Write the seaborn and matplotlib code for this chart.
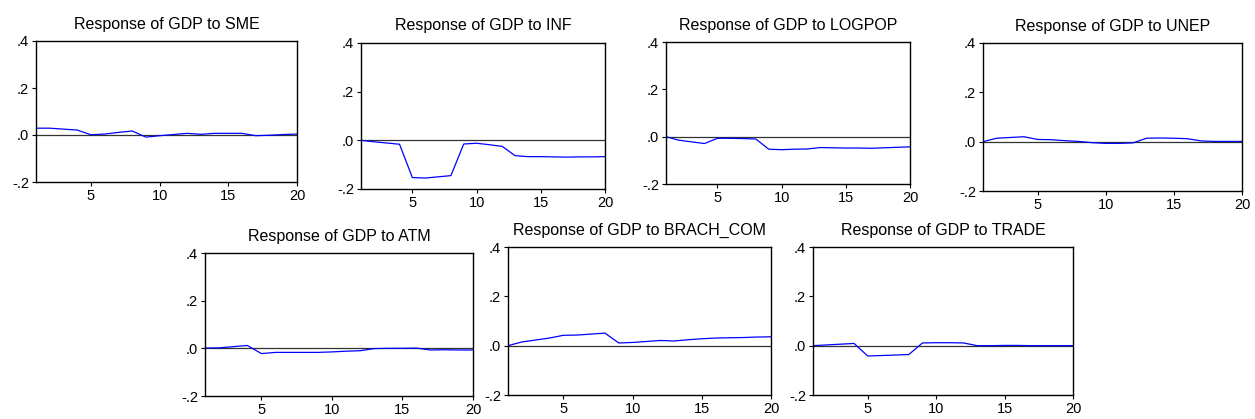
"""
Impulse responses of GDP (EViews-style panel of seven small line charts).
"""

import numpy as np
import pandas as pd
import matplotlib
matplotlib.use("Agg")
import matplotlib.pyplot as plt
from matplotlib.ticker import FuncFormatter
import seaborn as sns

# ---------------------------------------------------------------------------
# Datos
# ---------------------------------------------------------------------------
periods = list(range(1, 21))

sme = [0.029, 0.029, 0.025, 0.021, 0.001, 0.004, 0.011, 0.017, -0.009, -0.003,
       0.002, 0.007, 0.003, 0.007, 0.007, 0.007, -0.003, -0.001, 0.002, 0.004]
inf = [0.000, -0.006, -0.011, -0.016, -0.153, -0.155, -0.150, -0.145, -0.015, -0.012,
       -0.018, -0.025, -0.063, -0.067, -0.067, -0.068, -0.069, -0.068, -0.068, -0.067]
logpop = [0.000, -0.015, -0.022, -0.029, -0.007, -0.007, -0.008, -0.010, -0.053, -0.055,
          -0.053, -0.052, -0.046, -0.047, -0.048, -0.048, -0.049, -0.047, -0.045, -0.043]
unep = [0.000, 0.014, 0.017, 0.020, 0.009, 0.008, 0.004, 0.001, -0.004, -0.007,
        -0.007, -0.005, 0.014, 0.015, 0.014, 0.012, 0.003, 0.001, 0.001, 0.001]
atm = [0.001, 0.002, 0.007, 0.012, -0.022, -0.017, -0.017, -0.017, -0.017, -0.015,
       -0.012, -0.010, -0.001, 0.000, 0.000, 0.001, -0.007, -0.006, -0.007, -0.007]
brach_com = [0.000, 0.015, 0.023, 0.031, 0.042, 0.043, 0.047, 0.051, 0.011, 0.013,
             0.017, 0.021, 0.019, 0.024, 0.028, 0.031, 0.032, 0.033, 0.035, 0.036]
trade = [0.000, 0.003, 0.006, 0.009, -0.042, -0.040, -0.038, -0.036, 0.011, 0.012,
         0.012, 0.011, 0.000, 0.000, 0.001, 0.001, 0.000, 0.000, 0.000, 0.000]

titles = ["Response of GDP to SME", "Response of GDP to INF",
          "Response of GDP to LOGPOP", "Response of GDP to UNEP",
          "Response of GDP to ATM", "Response of GDP to BRACH_COM",
          "Response of GDP to TRADE"]
series = [sme, inf, logpop, unep, atm, brach_com, trade]

y_ticks = [-0.2, 0.0, 0.2, 0.4]
x_ticks = [5, 10, 15, 20]

# posiciones de los ejes en píxeles (izq, der, arriba, abajo)
W, H = 1255, 419
boxes = [(36, 297, 41, 182), (361, 605, 43, 189), (666, 910, 42, 184),
         (983, 1242, 43, 191), (205, 473, 253, 396), (508, 771, 247, 395),
         (813, 1073, 247, 395)]


def _fmt(v, _pos):
    s = f"{v:.1f}"
    return s.replace("0.", ".") if v >= 0 else s.replace("-0.", "-.")


sns.set_style("ticks")
plt.rcParams["font.family"] = ["Liberation Sans", "DejaVu Sans"]

fig = plt.figure(figsize=(W / 100, H / 100), dpi=100)

for title, vals, (l, r, t, b) in zip(titles, series, boxes):
    ax = fig.add_axes([l / W, 1 - b / H, (r - l) / W, (b - t) / H])
    df = pd.DataFrame({"period": periods, "value": vals})
    ax.axhline(0, color="#333333", lw=0.9, zorder=1)
    sns.lineplot(data=df, x="period", y="value", ax=ax, color="#0000ff", lw=0.9)
    ax.set_xlim(1, 20)
    ax.set_ylim(-0.2, 0.4)
    ax.set_xticks(x_ticks)
    ax.set_yticks(y_ticks)
    ax.yaxis.set_major_formatter(FuncFormatter(_fmt))
    ax.set_xlabel("")
    ax.set_ylabel("")
    ax.set_title(title, fontsize=11.5, pad=9, color="black")
    ax.tick_params(labelsize=10.5, length=3, width=0.8, pad=2,
                   colors="black", labelcolor="black")
    for sp in ax.spines.values():
        sp.set_visible(True)
        sp.set_color("black")
        sp.set_linewidth(1.0)

fig.savefig("out.png", dpi=100, facecolor="white")
